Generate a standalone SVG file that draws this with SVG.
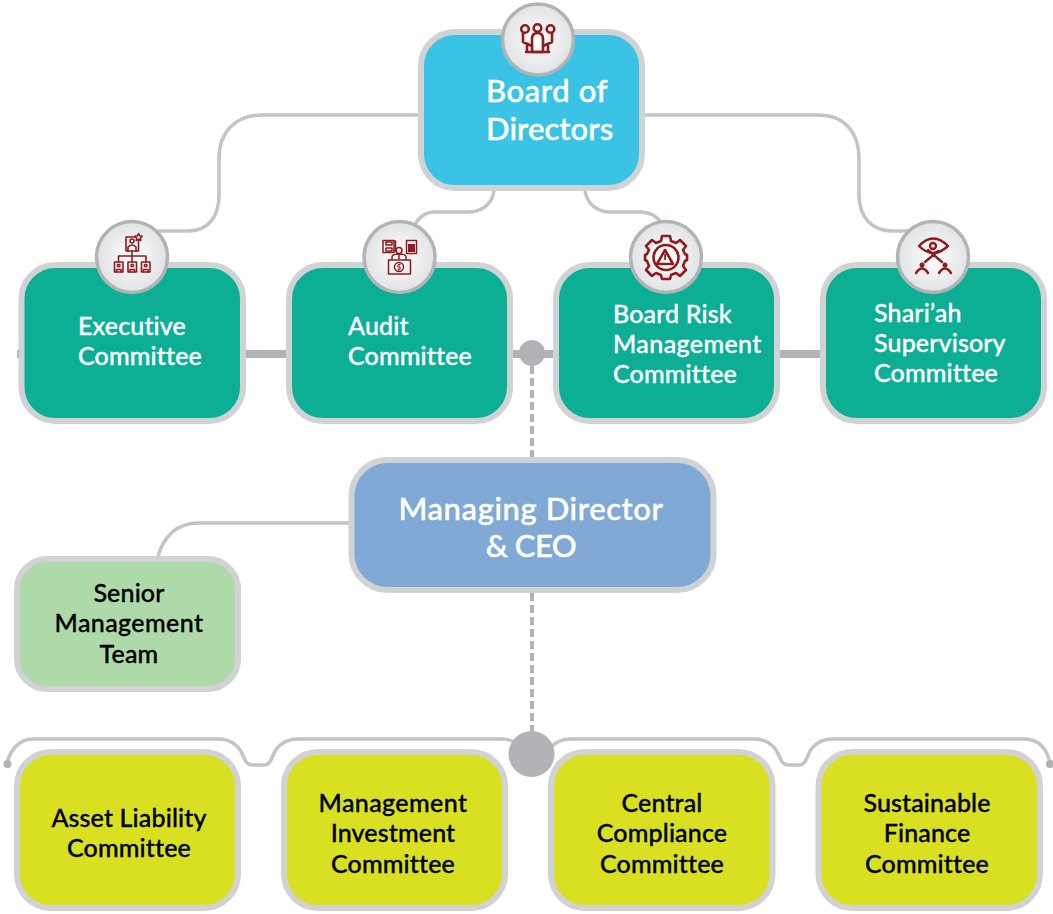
<svg xmlns="http://www.w3.org/2000/svg" width="1053" height="914" viewBox="0 0 1053 914">
<defs>
<radialGradient id="disc" cx="50%" cy="50%" r="50%"><stop offset="0" stop-color="#ffffff"/><stop offset="1" stop-color="#e1e2e4"/></radialGradient>
<style>
.box{stroke:#d1d2d4;stroke-width:6}
.wire{fill:none;stroke:#c3c4c6;stroke-width:3.5}
.bar{fill:#b1b3b6}
.dash{fill:none;stroke:#b1b3b6;stroke-width:4;stroke-dasharray:8 4}
.disc{fill:url(#disc);stroke:#b1b3b6;stroke-width:3.5}
.ico{fill:none;stroke:#8e1b1f;stroke-width:2;stroke-linejoin:round;stroke-linecap:round}
.icof{fill:#8e1b1f;stroke:none}
text{font-family:"Lato","Noto Sans",sans-serif;font-weight:500}
.w{fill:#fff;stroke:#fff;stroke-width:.35px;font-size:25px;letter-spacing:.15px}
.big{fill:#fff;stroke:#fff;stroke-width:.45px;font-size:31px;letter-spacing:.6px}
.k{fill:#000;stroke:#000;stroke-width:.35px;font-size:25px;letter-spacing:.15px;text-anchor:middle}
.c{text-anchor:middle}
</style>
</defs>
<rect width="1053" height="914" fill="#fff"/>
<g id="connectors">
<path class="wire" d="M418,115H262C236,115 219,132 219,158V195C219,217 208,231 188,231H155"/>
<path class="wire" d="M645,115H818C844,115 859,132 859,158V195C859,217 872,231 892,231H920"/>
<path class="wire" d="M494,191C492,204 482,212 468,212H434C426,212 419,217 414,226"/>
<path class="wire" d="M585,191C587,204 597,212 611,212H640C650,212 657,216 662,224"/>
<path class="wire" d="M349,523H198C178,523 163,536 158,557"/>
<path class="wire" d="M7,764C10,749 20,739 33,739H218C232,739 240,747 244,758C246,763 248,765 252,765H264C268,765 270,763 272,758C276,746 285,739 299,739H500C512,739 519,743 526,750"/>
<path class="wire" d="M551,747C556,742 562,739 570,739H754C768,739 776,747 780,758C782,763 784,765 788,765H799C803,765 805,763 807,758C811,746 819,739 833,739H1025C1039,739 1048,750 1050,764"/>
<rect class="bar" x="17" y="350" width="30" height="8"/>
<rect class="bar" x="240" y="350" width="50" height="8"/>
<rect class="bar" x="508" y="350" width="50" height="8"/>
<rect class="bar" x="775" y="350" width="50" height="8"/>
<path class="dash" d="M532,366V457"/>
<path class="dash" d="M532,593V731"/>
<circle class="bar" cx="532" cy="353" r="13"/>
<circle class="bar" cx="531.5" cy="754" r="23"/>
<circle class="bar" cx="7.5" cy="764" r="4"/>
<circle class="bar" cx="1050" cy="764" r="4"/>
</g>
<g id="board">
<rect class="box" x="421" y="32" width="221" height="156" rx="34" fill="#3bc3e6"/>
<text class="big" x="486" y="102">Board of</text>
<text class="big" x="486" y="140" style="letter-spacing:.1px">Directors</text>
<circle class="disc" cx="538" cy="39.5" r="35.5"/>
<g class="ico" style="stroke-width:2.600">
<circle cx="525" cy="29" r="3.800"/><circle cx="537.500" cy="28" r="3.800"/><circle cx="550.500" cy="29" r="3.800"/>
<path d="M532,52V39Q532,33 537.500,33Q543,33 543,39V52Z"/>
<path d="M523,33V42L532,46M552,33V42L543,46M527,46V52M548,46V52M526,52H549"/>
</g>
</g>
<g id="executive">
<rect class="box" x="21.5" y="265" width="221.5" height="156" rx="34" fill="#0daf94"/>
<text class="w" x="78" y="335">Executive</text>
<text class="w" x="78" y="365">Committee</text>
<circle class="disc" cx="132" cy="257" r="35.5"/>
<g class="ico" style="stroke-width:1.600">
<rect x="126" y="237" width="12.500" height="14"/><circle cx="132" cy="241" r="2"/><path d="M128,251V247Q132,243 136,247V251"/>
<path d="M138.500,233.500l1.200,2.300l2.500,.4l-1.800,1.800l.4,2.500l-2.300,-1.200l-2.300,1.200l.4,-2.500l-1.800,-1.800l2.500,-.4z" fill="#eee"/>
<path d="M132,251V262M118.500,262V256H146V262"/>
<rect x="114.500" y="262" width="8.500" height="10"/><rect x="128" y="262" width="8.500" height="10"/><rect x="141.500" y="262" width="8.500" height="10"/>
<circle cx="118.700" cy="265.500" r="1.300"/><circle cx="132.200" cy="265.500" r="1.300"/><circle cx="145.700" cy="265.500" r="1.300"/>
<path d="M116.500,272V269.500H121V272M130,272V269.500H134.500V272M143.500,272V269.500H148V272"/>
</g>
</g>
<g id="audit">
<rect class="box" x="289" y="265" width="221" height="156" rx="34" fill="#0daf94"/>
<text class="w" x="348" y="335">Audit</text>
<text class="w" x="348" y="365">Committee</text>
<circle class="disc" cx="399.500" cy="257" r="35.500"/>
<g class="ico" style="stroke-width:1.500">
<rect x="383" y="240.500" width="11" height="12"/><rect x="386" y="242" width="6" height="3"/><rect x="386" y="248" width="6" height="3"/>
<path d="M394,241H395.500V251H394"/>
<rect x="406.500" y="240.500" width="10" height="13"/><rect class="icof" x="408" y="244" width="7" height="8"/>
<circle cx="399" cy="250.500" r="3"/><path d="M392,260V257Q392,254 399,254Q406,254 406,257V260M399,254V259"/>
<rect x="388.500" y="260" width="22" height="14"/><circle cx="399" cy="267" r="4.500"/>
</g>
<text x="399" y="269.500" text-anchor="middle" style="font-size:7px;fill:#8e1b1f;stroke:none;font-weight:700">$</text>
</g>
<g id="risk">
<rect class="box" x="556" y="265" width="221" height="156" rx="34" fill="#0daf94"/>
<text class="w" x="613" y="323">Board Risk</text>
<text class="w" x="613" y="353" style="letter-spacing:.4px">Management</text>
<text class="w" x="613" y="383">Committee</text>
<circle class="disc" cx="666" cy="257" r="35.500"/>
<g class="ico" style="stroke-width:2.600">
<path d="M662,236H670L671,241L676,243L680,240L686,246L683,250L685,254L687,255V260L685,261L683,266L686,270L680,276L676,273L671,275L670,279H662L661,275L656,273L652,276L646,270L649,266L647,261L645,260V255L647,254L649,250L646,246L652,240L656,243L661,241Z"/>
<circle cx="666" cy="257.500" r="12.500"/>
<path d="M665,250L673,264H657Z"/>
</g>
<path class="icof" d="M664.200,254h1.800v6h-1.800z"/>
</g>
<g id="shariah">
<rect class="box" x="823" y="265" width="221" height="156" rx="34" fill="#0daf94"/>
<text class="w" x="874" y="322">Shari’ah</text>
<text class="w" x="874" y="352">Supervisory</text>
<text class="w" x="874" y="382">Committee</text>
<circle class="disc" cx="933" cy="257" r="35.500"/>
<g class="ico" style="stroke-width:2.400">
<path d="M919,246Q933,231 948,246Q933,260 919,246Z"/><circle cx="933" cy="246" r="3"/>
<path d="M925,262L938,251M942,262L928,250"/>
<path d="M916,273Q922,264 928,273M939,273Q945,264 951,273"/>
</g>
<circle class="icof" cx="922" cy="265" r="2.500"/><circle class="icof" cx="945" cy="265" r="2.500"/>
</g>
<g id="ceo">
<rect class="box" x="351.500" y="460" width="362" height="130" rx="36" fill="#80a9d6"/>
<text class="big c" x="531" y="520">Managing Director</text>
<text class="big c" x="531" y="557" style="letter-spacing:-.5px">&amp; CEO</text>
</g>
<g id="senior">
<rect class="box" x="17" y="559" width="221" height="130" rx="30" fill="#aed9a9"/>
<text class="k" x="129" y="602">Senior</text>
<text class="k" x="129" y="632" style="letter-spacing:.4px">Management</text>
<text class="k" x="129" y="663">Team</text>
</g>
<g id="alco">
<rect class="box" x="17" y="752" width="221" height="156" rx="34" fill="#d9e022"/>
<text class="k" x="129" y="827">Asset Liability</text>
<text class="k" x="129" y="857">Committee</text>
</g>
<g id="mic">
<rect class="box" x="284" y="752" width="221" height="156" rx="34" fill="#d9e022"/>
<text class="k" x="393" y="812" style="letter-spacing:.4px">Management</text>
<text class="k" x="393" y="842">Investment</text>
<text class="k" x="393" y="873">Committee</text>
</g>
<g id="ccc">
<rect class="box" x="551" y="752" width="221.500" height="156" rx="34" fill="#d9e022"/>
<text class="k" x="662" y="812">Central</text>
<text class="k" x="662" y="842">Compliance</text>
<text class="k" x="662" y="873">Committee</text>
</g>
<g id="sfc">
<rect class="box" x="818.500" y="752" width="221.500" height="156" rx="34" fill="#d9e022"/>
<text class="k" x="927" y="812">Sustainable</text>
<text class="k" x="927" y="842">Finance</text>
<text class="k" x="927" y="873">Committee</text>
</g>
</svg>
